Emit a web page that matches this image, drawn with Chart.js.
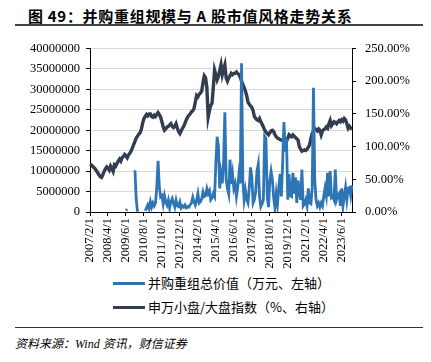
<!DOCTYPE html>
<html>
<head>
<meta charset="utf-8">
<script src="https://cdn.jsdelivr.net/npm/chart.js@4.4.0/dist/chart.umd.min.js"></script>
<style>
  body { margin: 0; background: #fff; width: 431px; height: 362px; position: relative; overflow: hidden; }
  #title { position: absolute; left: 28px; top: 5px; font: bold 15px "Noto Sans CJK SC", sans-serif; letter-spacing: 0.7px; color: #000; white-space: nowrap; }
  #rule1 { position: absolute; left: 15px; top: 24px; width: 408px; height: 2px; background: #444; }
  #box { position: absolute; left: 0; top: 32px; width: 431px; height: 240px; }
  .leg { position: absolute; left: 113px; height: 18px; font: 13px "Noto Sans CJK SC", sans-serif; color: #000; white-space: nowrap; }
  .leg span.ln { position: absolute; left: 0; top: 8px; width: 32px; height: 3px; }
  .leg span.tx { position: absolute; left: 35px; top: 0; line-height: 18px; }
  #rule2 { position: absolute; left: 15px; top: 327px; width: 408px; height: 1px; background: #333; }
  #src { position: absolute; left: 15px; top: 334px; font: italic 12px "Liberation Serif", "Noto Sans CJK SC", serif; color: #000; white-space: nowrap; }
</style>
</head>
<body>
<div id="title">图 49：并购重组规模与 A 股市值风格走势关系</div>
<div id="rule1"></div>
<div id="box"><canvas id="mychart" width="431" height="240"></canvas></div>
<div class="leg" style="top:274px"><span class="ln" style="background:#2E75B6"></span><span class="tx">并购重组总价值（万元、左轴）</span></div>
<div class="leg" style="top:298px"><span class="ln" style="background:#323E50"></span><span class="tx">申万小盘/大盘指数（%、右轴）</span></div>
<div id="rule2"></div>
<div id="src">资料来源：Wind 资讯，财信证券</div>

<script>
// months from 2007/2 to 2024/2
const startYear = 2007;
const startMonth = 2;
const monthCount = 205;
const months = [];
for (let i = 0; i < monthCount; i++) {
    const m = startMonth - 1 + i;
    months.push((startYear + Math.floor(m / 12)) + '/' + (m % 12 + 1) + '/1');
}

// 并购重组总价值, millions of 万元 (null = no deal data)
const mnaValue = [
    null, null, null, null, null, null, null, null, null, null,
    null, null, null, null, null, null, null, null, null, null,
    null, null, null, null, null, null, null, null, 0.4, 0.7,
    null, null, null, null, null, 10.2, 3, 0.1, null, null,
    null, null, null, 0.3, 1.0, 1.7, 0.8, 2.5, 1.2, 2.2,
    1.5, 2.2, 6, 12.5, 6, 3.7, 4, 2, 4, 2.5,
    1.7, 2.9, 1, 2.5, 3.3, 2.2, 1.2, 2.9, 1.5, 1.3,
    2.4, 1, 1.5, 1.2, 1.7, 1, 1.3, 1.2, 1.8, 2.2,
    3.6, 2.5, 1.7, 2.9, 4.5, 2.2, 2.5, 3.3, 4.9, 3.8,
    4, 5.7, 4.5, 5.2, 3, 3.5, 4.5, 3.8, 12, 18.4,
    16, 5.8, 9.3, 7, 12, 24.4, 8, 5.8, 4.4, 12.8,
    6.9, 9.3, 5.8, 6.9, 3.8, 6, 9.3, 7, 36.4, 7.7,
    3, 5.3, 3, 2.2, 6, 10.9, 8.5, 2.2, 3, 5,
    10, 11.7, 3.8, 1.3, 2, 3, 18.5, 18, 3.8, 1.2,
    7.7, 10, 8, 3.5, 1, 4.5, 2, 6, 9.3, 3.8,
    12, 22, 14.8, 18, 3, 9.3, 4, 3.8, 9.6, 4.5,
    8.5, 2.2, 7.7, 5, 3, 10.4, 1.5, 2, 3, 1.5,
    5.8, 2.2, 2, 5.8, 30.4, 8, 3, 1.5, 2.2, 1.2,
    2.2, 1.5, 3.8, 5.8, 4, 9.6, 3.8, 10, 3.5, 3.8,
    3, 10.4, 3, 4, 4.5, 1.5, 5.8, 1.5, 3.8, 6,
    3, 5.8, 6, 4, 6.5
];

// 申万小盘/大盘指数, %
const smallLargeRatio = [
    73, 72, 70, 68, 66, 63, 60, 57, 54, 53,
    57, 62, 66, 69, 67, 64, 70, 66, 62, 72,
    70, 74, 78, 81, 78, 83, 85, 88, 86, 83,
    87, 90, 93, 98, 103, 108, 113, 116, 119, 121,
    127, 136, 143, 146, 149, 147, 150, 150, 146, 145,
    148, 146, 149, 152, 149, 145, 138, 130, 125, 127,
    130, 131, 133, 135, 131, 129, 131, 135, 128, 123,
    120, 124, 128, 131, 136, 141, 145, 148, 150, 153,
    155, 158, 168, 178, 176, 180, 182, 185, 198, 208,
    205, 190, 145, 155, 163, 166, 190, 217, 210, 202,
    207, 216, 225, 210, 218, 225, 205, 200, 205, 208,
    212, 210, 212, 212, 214, 212, 210, 206, 200, 195,
    190, 185, 178, 168, 165, 162, 160, 155, 146, 143,
    141, 140, 143, 138, 134, 130, 125, 122, 120, 118,
    121, 124, 125, 123, 118, 115, 113, 112, 111, 110,
    109, 110, 108, 108, 113, 118, 116, 115, 118, 116,
    114, 112, 110, 100, 96, 93, 94, 95, 94, 96,
    99, 103, 112, 120, 124, 128, 126, 124, 127, 125,
    118, 124, 126, 127, 130, 128, 135, 140, 132, 135,
    138, 137, 135, 138, 140, 138, 141, 139, 143, 141,
    135, 128, 131, 128, 127
];

// axis ranges
const leftMax = 40000000;
const leftStep = 5000000;
const rightMax = 250;
const rightStep = 50;
const labelEvery = 14;

const tickFont = { family: '"Liberation Serif", "Times New Roman", serif', size: 12.5 };

const ctx = document.getElementById('mychart').getContext('2d');

let mychart = new Chart(ctx, {
    type: 'line',
    data: {
        labels: months,
        datasets: [
            {
                label: '并购重组总价值（万元、左轴）',
                data: mnaValue.map(v => v === null ? null : v * 1000000),
                borderColor: '#2E75B6',
                borderWidth: 2.8,
                yAxisID: 'y',
                pointRadius: 0,
                tension: 0
            },
            {
                label: '申万小盘/大盘指数（%、右轴）',
                data: smallLargeRatio,
                borderColor: '#323E50',
                borderWidth: 3.4,
                yAxisID: 'y1',
                pointRadius: 0,
                tension: 0
            }
        ]
    },
    options: {
        responsive: false,
        animation: false,
        layout: { padding: { top: 13, left: 0, right: 0, bottom: 0 } },
        plugins: { legend: { display: false }, tooltip: { enabled: false } },
        scales: {
            x: {
                offset: false,
                grid: {
                    drawOnChartArea: false,
                    tickLength: 4,
                    tickColor: (c) => (c.index % labelEvery === 0 ? '#000' : 'rgba(0,0,0,0)')
                },
                border: { color: '#000', width: 1 },
                ticks: {
                    autoSkip: false,
                    maxRotation: 90,
                    minRotation: 90,
                    padding: 2,
                    color: '#000',
                    font: tickFont,
                    callback: function (val, index) {
                        return index % labelEvery === 0 ? this.getLabelForValue(val) : '';
                    }
                },
                afterFit: (scale) => { scale.height = 60; }
            },
            y: {
                position: 'left',
                min: 0,
                max: leftMax,
                grid: { color: '#d9d9d9', tickColor: '#000', tickLength: 4 },
                border: { color: '#000', width: 1 },
                ticks: {
                    stepSize: leftStep,
                    padding: 6,
                    color: '#000',
                    font: tickFont,
                    callback: (v) => String(v)
                },
                afterFit: (scale) => { scale.width = 90; }
            },
            y1: {
                position: 'right',
                min: 0,
                max: rightMax,
                grid: { drawOnChartArea: false, tickColor: '#000', tickLength: 4 },
                border: { color: '#000', width: 1 },
                ticks: {
                    stepSize: rightStep,
                    padding: 9,
                    color: '#000',
                    font: tickFont,
                    callback: (v) => v.toFixed(2) + '%'
                },
                afterFit: (scale) => { scale.width = 79; }
            }
        }
    }
});
</script>
</body>
</html>
